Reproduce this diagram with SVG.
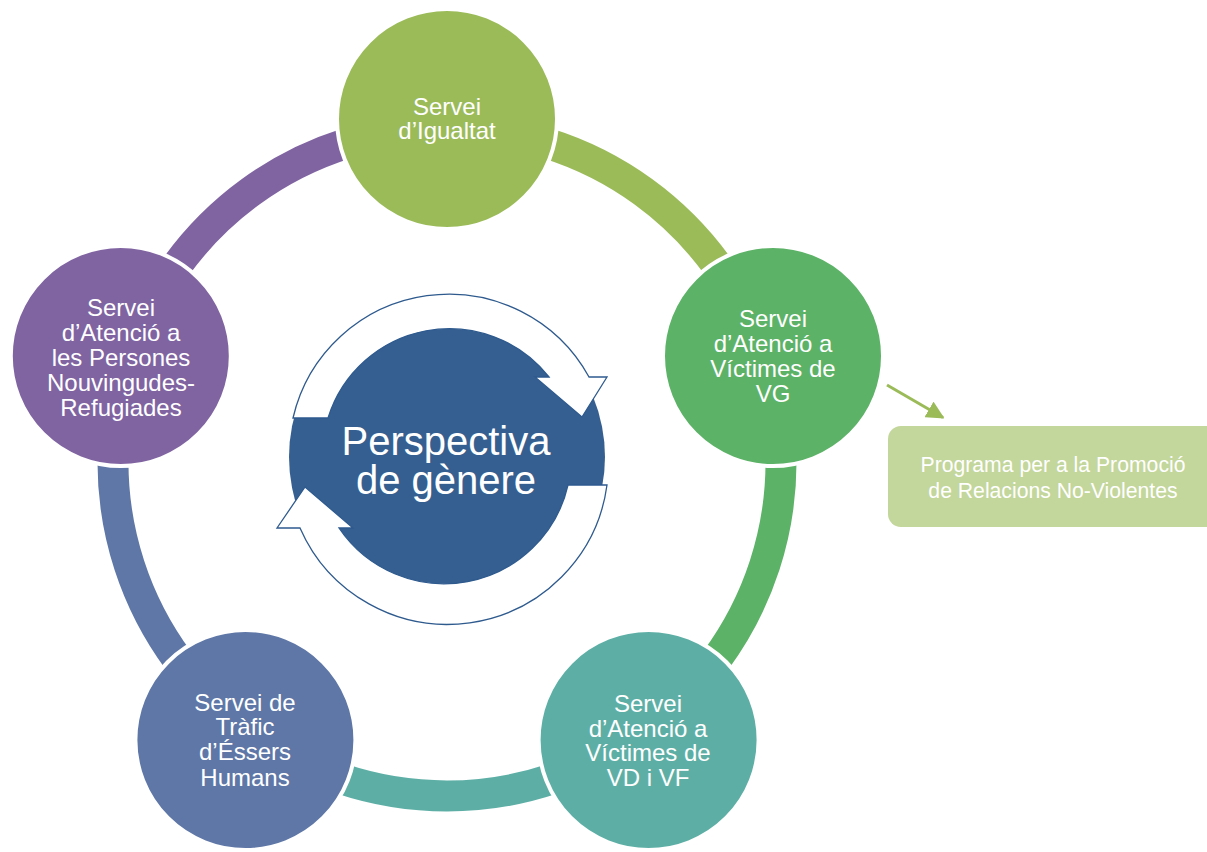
<svg xmlns="http://www.w3.org/2000/svg" width="1207" height="852" viewBox="0 0 1207 852">
<defs>
<style>
.band{fill:none;stroke-width:31}
.node circle{stroke:#fff;stroke-width:4}
.lbl{font-family:"Liberation Sans",Arial,sans-serif;font-size:24px;fill:#fff;text-anchor:middle}
.cycle{fill:#fff;stroke:#2E5A8E;stroke-width:1.3;stroke-linejoin:miter}
</style>
<marker id="ah" viewBox="0 0 10 10" refX="9" refY="5" markerWidth="6" markerHeight="6" markerUnits="strokeWidth" orient="auto">
<path d="M0,0 L10,5 L0,10 z" fill="#9BBB59"/>
</marker>
</defs>
<rect width="1207" height="852" fill="#fff"/>
<g id="connectors">
<path class="band" stroke="#9BBB59" d="M447 128 A334 334 0 0 1 764.7 358.8"/>
<path class="band" stroke="#5CB266" d="M764.7 358.8 A334 334 0 0 1 643.3 732.2"/>
<path class="band" stroke="#5DAFA6" d="M643.3 732.2 A334 334 0 0 1 250.7 732.2"/>
<path class="band" stroke="#5E77A7" d="M250.7 732.2 A334 334 0 0 1 129.3 358.8"/>
<path class="band" stroke="#8064A2" d="M129.3 358.8 A334 334 0 0 1 447 128"/>
<line x1="887" y1="385" x2="943" y2="417.5" stroke="#9BBB59" stroke-width="3" marker-end="url(#ah)"/>
</g>
<g id="center">
<circle cx="447" cy="457" r="158" fill="#365F91"/>
<path class="cycle" d="M293 418 A160 160 0 0 1 589 377 L607 377 L582 417 L535 377 L549 377 A127 127 0 0 0 328 418 Z"/>
<path class="cycle" d="M607 485 A161 161 0 0 1 300 528 L277 528 L305 487 L353 528 L339 528 A127 127 0 0 0 568 485 Z"/>
<text x="446" y="455" font-family="Liberation Sans, Arial, sans-serif" font-size="40" fill="#fff" text-anchor="middle">Perspectiva</text>
<text x="446" y="494" font-family="Liberation Sans, Arial, sans-serif" font-size="40" fill="#fff" text-anchor="middle">de gènere</text>
</g>
<g id="n-igualtat" class="node">
<circle cx="447" cy="119" r="110" fill="#9BBB59"/>
<text class="lbl" x="447" y="115">Servei</text>
<text class="lbl" x="447" y="139">d’Igualtat</text>
</g>
<g id="n-vg" class="node">
<circle cx="773" cy="356" r="110" fill="#5CB266"/>
<text class="lbl" x="773" y="327">Servei</text>
<text class="lbl" x="773" y="352">d’Atenció a</text>
<text class="lbl" x="773" y="377">Víctimes de</text>
<text class="lbl" x="773" y="402">VG</text>
</g>
<g id="n-vd" class="node">
<circle cx="648.6" cy="740" r="110" fill="#5DAFA6"/>
<text class="lbl" x="648" y="712">Servei</text>
<text class="lbl" x="648" y="737">d’Atenció a</text>
<text class="lbl" x="648" y="761">Víctimes de</text>
<text class="lbl" x="648" y="786">VD i VF</text>
</g>
<g id="n-trafic" class="node">
<circle cx="245.4" cy="740" r="110" fill="#5E77A7"/>
<text class="lbl" x="245" y="711">Servei de</text>
<text class="lbl" x="245" y="735">Tràfic</text>
<text class="lbl" x="245" y="760">d’Éssers</text>
<text class="lbl" x="245" y="786">Humans</text>
</g>
<g id="n-refugiades" class="node">
<circle cx="120.8" cy="356" r="110" fill="#8064A2"/>
<text class="lbl" x="121" y="316">Servei</text>
<text class="lbl" x="121" y="341">d’Atenció a</text>
<text class="lbl" x="121" y="366">les Persones</text>
<text class="lbl" x="121" y="391">Nouvingudes-</text>
<text class="lbl" x="121" y="416">Refugiades</text>
</g>
<g id="n-programa">
<rect x="888" y="426" width="335" height="101" rx="13" fill="#C3D69B"/>
<text x="1053" y="472" font-family="Liberation Sans, Arial, sans-serif" font-size="21.2" fill="#fff" text-anchor="middle">Programa per a la Promoció</text>
<text x="1053" y="498" font-family="Liberation Sans, Arial, sans-serif" font-size="21.2" fill="#fff" text-anchor="middle">de Relacions No-Violentes</text>
</g>
</svg>
